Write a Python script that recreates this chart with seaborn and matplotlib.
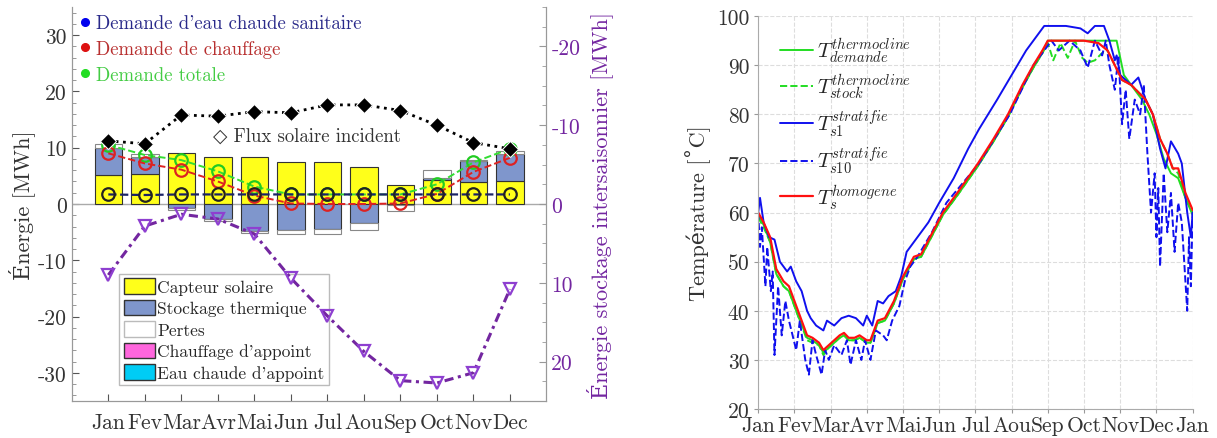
import matplotlib
matplotlib.use('Agg')
import matplotlib.pyplot as plt
import numpy as np
import seaborn as sns
from matplotlib.lines import Line2D
from matplotlib.patches import Patch
from matplotlib.ticker import MultipleLocator

# ---- left panel data (MWh) ----
months = ['Jan', 'Fev', 'Mar', 'Avr', 'Mai', 'Jun', 'Jul', 'Aou', 'Sep', 'Oct', 'Nov', 'Dec']
capteur = [5.1, 5.3, 9.1, 8.4, 8.4, 7.4, 7.4, 6.5, 3.4, 4.3, 3.9, 4.1]
stockage = [4.9, 3.1, -0.7, -2.6, -4.8, -4.6, -4.4, -3.4, -0.1, 0.3, 3.8, 4.8]
pertes = [0.7, 0.4, -0.4, -0.4, -0.3, -0.7, -0.9, -1.2, -1.2, 1.5, 0.2, 0.6]
dem_ecs = [1.7, 1.6, 1.7, 1.7, 1.7, 1.7, 1.7, 1.7, 1.7, 1.7, 1.7, 1.7]
dem_chauffage = [9.0, 7.2, 6.1, 4.0, 1.5, 0.1, 0.0, 0.0, 0.1, 1.8, 5.7, 8.2]
dem_totale = [10.5, 8.7, 7.8, 5.8, 3.1, 1.7, 1.7, 1.7, 1.7, 3.5, 7.4, 9.8]
flux_solaire = [11.2, 10.7, 15.8, 15.6, 16.4, 16.2, 17.6, 17.6, 16.6, 14.0, 10.9, 9.8]
stock_inter = [9.0, 2.8, 1.3, 1.9, 3.8, 9.4, 14.2, 18.7, 22.4, 22.7, 21.4, 10.8]

# ---- right panel data (deg C), x in months from 1 Jan ----
year_ticks = ['Jan', 'Fev', 'Mar', 'Avr', 'Mai', 'Jun', 'Jul', 'Aou', 'Sep', 'Oct', 'Nov', 'Dec', 'Jan']

hom_t = [0, 0.15, 0.33, 0.5, 0.7, 0.85, 1.0, 1.1, 1.35, 1.5, 1.68, 1.8, 1.95, 2.1, 2.25, 2.37,
         2.5, 2.66, 2.8, 3.0, 3.1, 3.3, 3.5, 3.75, 4.0, 4.3, 4.5, 5.1, 5.5, 6.07, 6.5, 6.9,
         7.3, 7.6, 7.85, 8.0, 8.5, 9.0, 9.4, 9.65, 9.85, 10.05, 10.3, 10.7, 10.9, 11.1, 11.3,
         11.45, 11.6, 11.8, 12.0]
hom_T = [60, 58, 55, 48.5, 46, 45, 42, 40, 35, 34.5, 33.5, 32, 33, 34, 35, 35.5,
         34.5, 34.5, 35, 34, 34, 38, 38.5, 42, 47, 51, 51.5, 60, 64, 70, 75, 80,
         86, 90, 93, 95, 95, 95, 94.5, 93, 90, 87, 86, 83, 80, 75, 72,
         69, 69, 64, 60.5]

dem_t = [0, 0.15, 0.33, 0.5, 0.7, 0.85, 1.0, 1.1, 1.35, 1.5, 1.68, 1.8, 1.95, 2.1, 2.25, 2.37,
         2.5, 2.66, 2.8, 3.0, 3.1, 3.3, 3.5, 3.75, 4.0, 4.3, 4.5, 5.1, 5.5, 6.07, 6.5, 6.9,
         7.3, 7.6, 7.85, 8.0, 8.5, 9.0, 9.5, 9.9, 10.1, 10.3, 10.6, 10.8, 11.0, 11.2,
         11.4, 11.6, 11.8, 12.0]
dem_T = [59.5, 57.5, 54, 47.5, 45, 44, 41, 39, 34.5, 34, 33, 31.5, 32.5, 33.5, 34.5, 35,
         34, 34, 34.5, 33.5, 33.5, 37.5, 38, 41.5, 46.5, 50.5, 51, 59.5, 63.5, 69.5, 74.5, 79.5,
         85.5, 89.5, 92.5, 95, 95, 95, 95, 95, 88, 86, 83, 80, 76, 71,
         68, 67, 63, 59.5]

stock_t = [0, 0.15, 0.33, 0.5, 0.7, 0.85, 1.0, 1.1, 1.35, 1.5, 1.68, 1.8, 1.95, 2.1, 2.25, 2.37,
           2.5, 2.66, 2.8, 3.0, 3.1, 3.3, 3.5, 3.75, 4.0, 4.3, 4.5, 5.1, 5.5, 6.07, 6.5, 6.9,
           7.3, 7.6, 7.85, 8.0, 8.15, 8.35, 8.55, 8.75, 8.95, 9.1, 9.3, 9.5, 9.65, 9.85,
           10.05, 10.3, 10.7, 10.9, 11.1, 11.3, 11.45, 11.6, 11.8, 12.0]
stock_T = [59, 57, 54, 47.5, 45, 44, 41, 39, 34, 33.5, 33, 31, 32.5, 33.5, 34.5, 35,
           34, 34, 34.5, 33.5, 33.5, 37.5, 38, 41.5, 46.5, 50.5, 51, 59.5, 63.5, 69.5, 74.5, 79.5,
           85.5, 89.5, 92.5, 94.5, 91, 94.5, 91.5, 95, 91.5, 90.5, 91, 92.5, 93, 90,
           87, 86, 83, 80, 75, 72, 69, 68, 63, 60]

s1_t = [0, 0.05, 0.15, 0.3, 0.45, 0.6, 0.8, 0.9, 1.05, 1.2, 1.35, 1.45, 1.6, 1.8, 1.9, 2.1,
        2.3, 2.5, 2.7, 2.9, 3.0, 3.15, 3.3, 3.45, 3.6, 3.8, 3.95, 4.1, 4.4, 4.7, 5.0, 5.4,
        5.8, 6.1, 6.6, 7.0, 7.4, 7.6, 7.9, 8.5, 8.9, 9.1, 9.3, 9.55, 9.7, 9.85, 9.9, 10.0,
        10.3, 10.5, 10.7, 10.9, 11.1, 11.25, 11.4, 11.6, 11.7, 11.85, 11.95, 12.0]
s1_T = [60, 63, 58, 55, 54.5, 50, 48, 49, 46, 44, 40, 38.5, 37, 36, 38, 37,
        38.5, 39, 38.5, 37, 39, 37, 42, 41.5, 43, 44, 47, 52, 55, 58, 62, 67,
        73, 77, 83, 88, 93, 95, 98, 98, 97.5, 96.5, 98, 98, 95, 91, 92, 88,
        86, 87.5, 83, 80, 73, 69, 74.5, 72, 70, 60, 55, 60]

s10_t = [0, 0.05, 0.1, 0.2, 0.25, 0.35, 0.4, 0.45, 0.55, 0.65, 0.75, 0.85, 1.05, 1.15, 1.3,
         1.4, 1.5, 1.6, 1.75, 1.85, 1.95, 2.1, 2.3, 2.45, 2.55, 2.7, 2.85, 2.95, 3.1, 3.25,
         3.45, 3.55, 3.7, 3.9, 4.05, 4.2, 4.4, 4.8, 5.2, 6.1, 6.95, 7.6, 7.9, 8.1, 8.3, 8.6,
         8.9, 9.1, 9.3, 9.5, 9.6, 9.7, 9.85, 9.95, 10.05, 10.15, 10.25, 10.4, 10.55, 10.65,
         10.75, 10.85, 10.95, 11.0, 11.05, 11.1, 11.2, 11.3, 11.4, 11.5, 11.6, 11.7, 11.8,
         11.85, 11.9, 11.95, 12.0]
s10_T = [60, 53, 57, 45, 53, 44, 48, 31, 45, 35, 42, 38, 32, 38, 30,
         27, 34, 31, 27, 32, 30, 33, 31, 34, 29, 34, 30, 34, 30, 36,
         35, 34, 38, 41, 46, 49, 51, 56, 62, 70, 80, 90, 93, 95, 93, 95,
         93, 89.5, 95, 92, 95, 90, 85, 92, 78, 85, 75, 83, 80, 86,
         72, 60, 68, 55, 65, 49, 68, 56, 64, 52, 62, 58, 46,
         40, 55, 45, 60]

# ---- style ----
sns.set_style('ticks')
plt.rcParams['font.family'] = ['cmr10', 'DejaVu Serif', 'DejaVu Sans']
plt.rcParams['mathtext.fontset'] = 'cm'
plt.rcParams['axes.unicode_minus'] = False
plt.rcParams['axes.formatter.use_mathtext'] = True
text_col = '#333333'
purple = '#8e3fd0'
purple_dark = '#7326a0'
tick_fs = 15.5

fig = plt.figure(figsize=(12.17, 4.39), dpi=100)
ax = fig.add_axes([0.059, 0.084, 0.39, 0.898])

xpos = np.arange(len(months))
bar_w = 0.75
edge = '#333333'

# yellow collector bars
sns.barplot(x=months, y=capteur, ax=ax, color='#ffff1a', saturation=1,
            edgecolor=edge, linewidth=0.8, width=bar_w, zorder=2)

cap = np.array(capteur)
sto = np.array(stockage)
per = np.array(pertes)
sto_bottom = np.where(sto > 0, cap, 0)
ax.bar(xpos, sto, bottom=sto_bottom, width=bar_w, color='#7f96cc',
       edgecolor=edge, linewidth=0.8, zorder=2)
per_bottom = np.where(per > 0, cap + np.clip(sto, 0, None), np.clip(sto, None, 0))
ax.bar(xpos, per, bottom=per_bottom, width=bar_w, color='white',
       edgecolor='#888888', linewidth=0.8, zorder=2)

ax.axhline(0, color='#aaaaaa', lw=1.0, zorder=1)

# demand lines
sns.lineplot(x=xpos, y=dem_totale, ax=ax, color='#33dd33', linestyle='--', lw=1.4,
             marker='o', markersize=9, markerfacecolor='none', markeredgecolor='#22cc22',
             markeredgewidth=1.6, zorder=4)
sns.lineplot(x=xpos, y=dem_chauffage, ax=ax, color='#dd2222', linestyle='--', lw=1.4,
             marker='o', markersize=9, markerfacecolor='none', markeredgecolor='#dd2222',
             markeredgewidth=1.6, zorder=4)
sns.lineplot(x=xpos, y=dem_ecs, ax=ax, color='#1a2266', linestyle='--', lw=1.6,
             marker='o', markersize=9, markerfacecolor='none', markeredgecolor='#222222',
             markeredgewidth=1.6, zorder=4)
sns.lineplot(x=xpos, y=flux_solaire, ax=ax, color='black', linestyle=':', lw=2,
             marker='D', markersize=8, zorder=4)

ax.text(5.45, 12.1, '\u25c7 Flux solaire incident', ha='center', va='center',
        fontsize=13.5, color=text_col, zorder=5)

ax.set_xlim(-1, 12)
ax.set_ylim(-35, 35)
ax.set_yticks([-30, -20, -10, 0, 10, 20, 30])
ax.set_yticklabels(['-30', '-20', '-10', '0', '10', '20', '30'])
ax.yaxis.set_minor_locator(MultipleLocator(2))
ax.set_xticks(xpos)
ax.set_xticklabels(months)
ax.tick_params(axis='both', labelsize=tick_fs, colors='#555555', labelcolor=text_col,
               direction='in', length=5)
ax.tick_params(axis='x', pad=8)
ax.tick_params(axis='y', which='minor', direction='in', length=3, colors='#888888')
ax.set_xlabel('')
ax.set_ylabel('Énergie [MWh]', fontsize=16, color=text_col, labelpad=2)
for s in ax.spines.values():
    s.set_color('#999999')
ax.spines['top'].set_visible(False)

# bar legend
bar_handles = [Patch(facecolor='#ffff1a', edgecolor=edge, label='Capteur solaire'),
               Patch(facecolor='#7f96cc', edgecolor=edge, label='Stockage thermique'),
               Patch(facecolor='white', edgecolor='#bbbbbb', label='Pertes'),
               Patch(facecolor='#ff66dd', edgecolor=edge, label="Chauffage d'appoint"),
               Patch(facecolor='#00ccf5', edgecolor=edge, label="Eau chaude d'appoint")]
leg1 = ax.legend(handles=bar_handles, loc='lower left', bbox_to_anchor=(0.1, 0.04),
                 fontsize=12.5, frameon=True, fancybox=False, edgecolor='#aaaaaa',
                 handlelength=1.8, handleheight=1.0, handletextpad=0.15,
                 labelspacing=0.28, borderpad=0.25, borderaxespad=0)
leg1.get_frame().set_linewidth(1.0)
ax.add_artist(leg1)

dem_handles = [Line2D([], [], ls='none', marker='o', markersize=5.5, color='#0000ee'),
               Line2D([], [], ls='none', marker='o', markersize=5.5, color='#dd1111'),
               Line2D([], [], ls='none', marker='o', markersize=5.5, color='#22dd22')]
leg2 = ax.legend(dem_handles, ["Demande d'eau chaude sanitaire", 'Demande de chauffage',
                               'Demande totale'],
                 loc='upper left', bbox_to_anchor=(-0.005, 1.01), frameon=False, fontsize=13.5,
                 handlelength=0.5, handletextpad=0.3, labelspacing=0.42, borderaxespad=0.2,
                 labelcolor=['#2a2a8a', '#b83030', '#44cc44'])

# seasonal storage on twin axis
ax2 = ax.twinx()
sns.lineplot(x=xpos, y=stock_inter, ax=ax2, color=purple_dark, linestyle=(0, (3, 1.5, 1, 1.5)),
             lw=2.2, marker='v', markersize=9, markerfacecolor='none', markeredgecolor=purple,
             markeredgewidth=1.6)
ax2.set_ylim(25, -25)
ax2.set_yticks([-20, -10, 0, 10, 20])
ax2.set_yticklabels(['-20', '-10', '0', '10', '20'])
ax2.yaxis.set_minor_locator(MultipleLocator(2.5))
ax2.tick_params(axis='y', labelsize=tick_fs, colors='#999999', labelcolor=purple_dark,
                direction='in', length=5)
ax2.tick_params(axis='y', which='minor', direction='in', length=3, colors='#999999')
ax2.set_ylabel('Énergie stockage intersaisonnier [MWh]', fontsize=16, color=purple_dark,
               labelpad=4)
for s in ax2.spines.values():
    s.set_color('#999999')
ax2.spines['top'].set_visible(False)

# ---- right panel ----
axr = fig.add_axes([0.623, 0.066, 0.357, 0.895])
sns.lineplot(x=dem_t, y=dem_T, ax=axr, color='#22dd22', lw=1.4,
             label=r'$T^{thermocline}_{demande}$')
sns.lineplot(x=stock_t, y=stock_T, ax=axr, color='#22dd22', lw=1.4, linestyle='--',
             label=r'$T^{thermocline}_{stock}$')
sns.lineplot(x=s1_t, y=s1_T, ax=axr, color='#1010ee', lw=1.4,
             label=r'$T^{stratifie}_{s1}$')
sns.lineplot(x=s10_t, y=s10_T, ax=axr, color='#1010ee', lw=1.4, linestyle='--',
             label=r'$T^{stratifie}_{s10}$')
sns.lineplot(x=hom_t, y=hom_T, ax=axr, color='#ff1010', lw=1.6,
             label=r'$T^{homogene}_{s}$')

axr.set_xlim(0, 12)
axr.set_ylim(20, 100)
axr.set_xticks(np.arange(13))
axr.set_xticklabels(year_ticks)
axr.set_yticks(np.arange(20, 101, 10))
axr.set_yticklabels([str(v) for v in range(20, 101, 10)])
axr.grid(True, linestyle='--', color='#dddddd', lw=0.8)
axr.tick_params(axis='both', labelsize=tick_fs, labelcolor=text_col, colors='#999999',
                length=3)
axr.tick_params(axis='x', pad=2)
axr.set_ylabel('Température [\u02daC]', fontsize=16, color=text_col, labelpad=4)
for side in ['top', 'right']:
    axr.spines[side].set_visible(False)
for side in ['left', 'bottom']:
    axr.spines[side].set_color('#aaaaaa')
axr.legend(loc='upper left', bbox_to_anchor=(0.03, 0.97), frameon=False, fontsize=15,
           handlelength=1.6, handletextpad=0.2, labelspacing=0.3, borderaxespad=0)

fig.savefig('out.png', dpi=100)
plt.close(fig)
